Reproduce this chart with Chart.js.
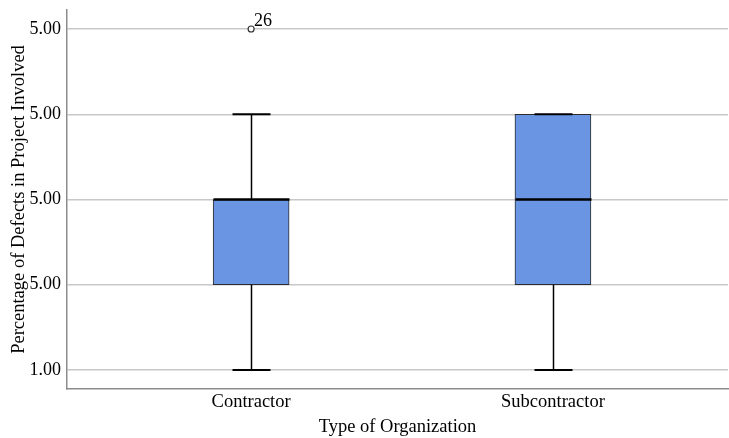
<!DOCTYPE html>
<html>
<head>
<meta charset="utf-8">
<script src="https://cdn.jsdelivr.net/npm/chart.js@4/dist/chart.umd.min.js"></script>
<style>
  html, body { margin: 0; padding: 0; background: #fff; }
  #wrap { width: 729px; height: 438px; position: relative; }
</style>
</head>
<body>
<div id="wrap"><canvas id="c"></canvas></div>
<script>
// Box plot summary per organization type
const categories = ['Contractor', 'Subcontractor'];
const catPos = [1, 2];
const mins = [1, 1];
const q1s = [2, 2];
const medians = [3, 3];
const q3s = [3, 4];
const maxs = [4, 4];
const outlierCat = [0];
const outlierVal = [5];
const outlierLabel = ['26'];
const yTickValues = [1, 2, 3, 4, 5];
const yTickLabels = ['1.00', '5.00', '5.00', '5.00', '5.00'];

const serif = '"Liberation Serif", "Times New Roman", serif';
const boxWidth = 76;

const boxPlugin = {
  id: 'boxParts',
  afterDatasetsDraw(chart) {
    const { ctx, scales: { x, y } } = chart;
    ctx.save();
    categories.forEach((c, i) => {
      const cx = Math.round(x.getPixelForValue(catPos[i])) + 0.5;
      const half = boxWidth / 2;
      const capHalf = boxWidth / 4;
      ctx.strokeStyle = '#000';
      ctx.lineWidth = 1.5;
      // whiskers
      ctx.beginPath();
      ctx.moveTo(cx, y.getPixelForValue(q3s[i]));
      ctx.lineTo(cx, y.getPixelForValue(maxs[i]));
      ctx.moveTo(cx, y.getPixelForValue(q1s[i]));
      ctx.lineTo(cx, y.getPixelForValue(mins[i]));
      ctx.stroke();
      // caps
      ctx.lineWidth = 2;
      ctx.beginPath();
      [mins[i], maxs[i]].forEach(v => {
        const py = y.getPixelForValue(v);
        ctx.moveTo(cx - capHalf, py);
        ctx.lineTo(cx + capHalf, py);
      });
      ctx.stroke();
      // median
      ctx.lineWidth = 2.5;
      ctx.beginPath();
      const my = y.getPixelForValue(medians[i]);
      ctx.moveTo(cx - half, my);
      ctx.lineTo(cx + half, my);
      ctx.stroke();
    });
    // outliers
    outlierCat.forEach((ci, k) => {
      const px = x.getPixelForValue(catPos[ci]);
      const py = y.getPixelForValue(outlierVal[k]);
      ctx.fillStyle = '#fff';
      ctx.strokeStyle = '#333';
      ctx.lineWidth = 1.2;
      ctx.beginPath();
      ctx.arc(px, py, 3, 0, Math.PI * 2);
      ctx.fill();
      ctx.stroke();
      ctx.fillStyle = '#000';
      ctx.font = '18px ' + serif;
      ctx.textAlign = 'left';
      ctx.textBaseline = 'middle';
      ctx.fillText(outlierLabel[k], px + 3, py - 8);
    });
    ctx.restore();
  }
};

new Chart(document.getElementById('c'), {
  type: 'bar',
  data: {
    datasets: [{
      data: categories.map((c, i) => ({ x: catPos[i], y: [q1s[i], q3s[i]] })),
      backgroundColor: '#6a95e3',
      borderColor: '#2b2b2b',
      borderWidth: 1,
      borderSkipped: false,
      barThickness: boxWidth
    }]
  },
  options: {
    responsive: true,
    maintainAspectRatio: false,
    animation: false,
    layout: { padding: { top: 10, right: 1, left: 0, bottom: 0 } },
    plugins: { legend: { display: false }, tooltip: { enabled: false } },
    scales: {
      x: {
        type: 'linear',
        offset: false,
        bounds: 'data',
        min: 0.39,
        max: 2.58,
        afterBuildTicks(scale) { scale.ticks = catPos.map(v => ({ value: v })); },
        afterFit(scale) { scale.height = 49; scale.paddingLeft = 0; scale.paddingRight = 0; },
        ticks: {
          callback: (v) => categories[catPos.indexOf(v)] || '',
          color: '#000',
          font: { family: serif, size: 18.5 },
          padding: 2,
          maxRotation: 0
        },
        grid: { display: false, drawTicks: false, offset: false },
        border: { display: true, color: '#8c8c8c', width: 1.5 },
        title: {
          display: true,
          text: 'Type of Organization',
          color: '#000',
          font: { family: serif, size: 18.5 },
          padding: { top: 6, bottom: 0 }
        }
      },
      y: {
        min: 0.777,
        max: 5.223,
        afterBuildTicks(scale) { scale.ticks = yTickValues.map(v => ({ value: v })); },
        afterFit(scale) { scale.width = 67; scale.paddingTop = 0; scale.paddingBottom = 0; },
        ticks: {
          callback: (v) => yTickLabels[yTickValues.indexOf(v)],
          color: '#000',
          font: { family: serif, size: 18 },
          padding: 6
        },
        grid: { color: '#c8c8c8', lineWidth: 1.5, drawTicks: false },
        border: { display: true, color: '#8c8c8c', width: 1.5 },
        title: {
          display: true,
          text: 'Percentage of Defects in Project Involved',
          color: '#000',
          font: { family: serif, size: 18.5 },
          padding: { top: 8, bottom: 0 }
        }
      }
    }
  },
  plugins: [boxPlugin]
});
</script>
</body>
</html>
